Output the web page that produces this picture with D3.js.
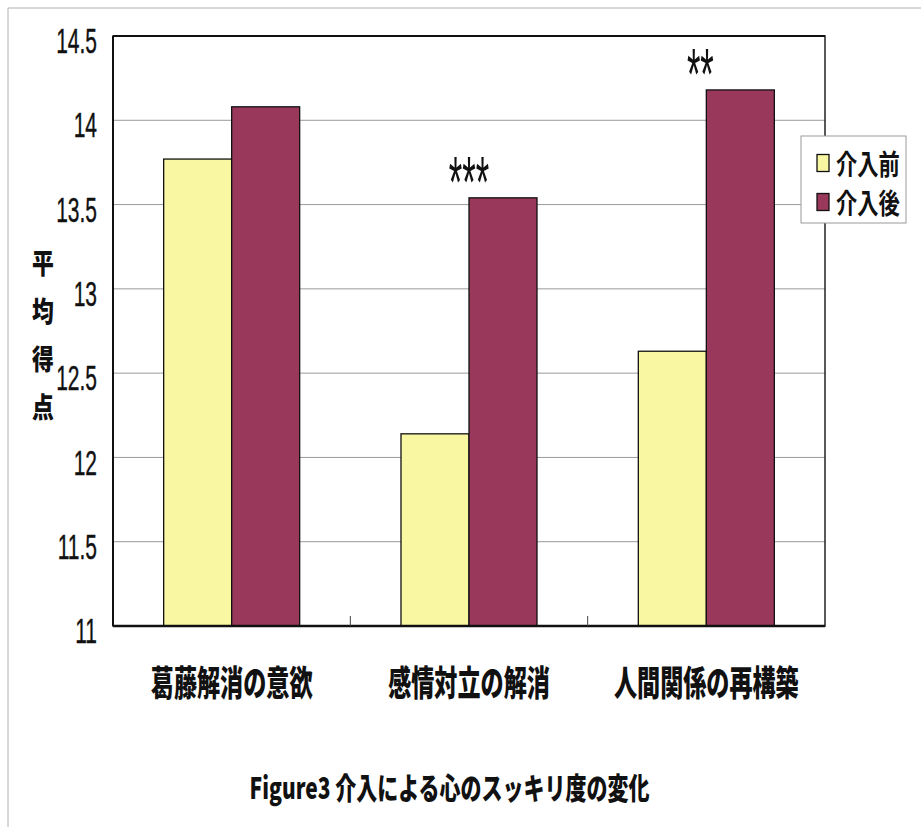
<!DOCTYPE html>
<html>
<head>
<meta charset="utf-8">
<script src="https://cdn.jsdelivr.net/npm/d3@7"></script>
<style>
  html, body { margin: 0; padding: 0; background: #fff; }
  svg { display: block; }
</style>
</head>
<body>
<script>
// ---- data ----
const categories = ["葛藤解消の意欲", "感情対立の解消", "人間関係の再構築"];
const seriesNames = ["介入前", "介入後"];
const beforeValues = [13.77, 12.14, 12.63];
const afterValues = [14.08, 13.54, 14.18];
const yTicks = [11, 11.5, 12, 12.5, 13, 13.5, 14, 14.5];
const significance = [
  { category: "感情対立の解消", label: "***" },
  { category: "人間関係の再構築", label: "**" }
];
const yTitle = "平均得点";
const chartTitle = "Figure3 介入による心のスッキリ度の変化";

// ---- layout / style ----
const W = 921, H = 827;
const plot = { left: 113, right: 825, top: 36, bottom: 626 };
const colors = ["#FAF7A3", "#99385B"];
const numFont = "'Liberation Sans', Arial, sans-serif";
const cjkFont = "'Noto Sans CJK JP', 'Noto Sans CJK SC', sans-serif";

const svg = d3.select("body").append("svg").attr("width", W).attr("height", H);

// outer frame (top & left only visible)
svg.append("line").attr("x1", 8).attr("y1", 8).attr("x2", W).attr("y2", 8)
  .attr("stroke", "#b0b0b0").attr("stroke-width", 1);
svg.append("line").attr("x1", 8).attr("y1", 8).attr("x2", 8).attr("y2", H)
  .attr("stroke", "#b0b0b0").attr("stroke-width", 1);

const y = d3.scaleLinear().domain([11, 14.5]).range([plot.bottom, plot.top]);
const x0 = d3.scaleBand().domain(categories).range([plot.left, plot.right]).padding(0);
const x1 = d3.scaleBand().domain(seriesNames).range([0, x0.bandwidth()])
  .paddingInner(0).paddingOuter(0.745);

// gridlines
svg.append("g").selectAll("line").data(yTicks.filter(t => t > 11 && t < 14.5)).join("line")
  .attr("x1", plot.left).attr("x2", plot.right)
  .attr("y1", d => y(d)).attr("y2", d => y(d))
  .attr("stroke", "#9a9a9a").attr("stroke-width", 1);

// bars
const rows = categories.map((c, i) => ({ category: c, values: [beforeValues[i], afterValues[i]] }));
const groups = svg.append("g").selectAll("g").data(rows).join("g")
  .attr("transform", d => `translate(${x0(d.category)},0)`);
groups.selectAll("rect").data(d => d.values.map((v, j) => ({ name: seriesNames[j], value: v, j })))
  .join("rect")
  .attr("x", d => x1(d.name))
  .attr("width", x1.bandwidth())
  .attr("y", d => y(d.value))
  .attr("height", d => y(11) - y(d.value))
  .attr("fill", d => colors[d.j])
  .attr("stroke", "#111").attr("stroke-width", 1.3);

// plot border
svg.append("rect").attr("x", plot.left).attr("y", plot.top)
  .attr("width", plot.right - plot.left).attr("height", plot.bottom - plot.top)
  .attr("fill", "none").attr("stroke", "#222").attr("stroke-width", 1.5);
svg.append("line").attr("x1", plot.left).attr("x2", plot.right)
  .attr("y1", plot.bottom).attr("y2", plot.bottom)
  .attr("stroke", "#111").attr("stroke-width", 2.5);
svg.append("line").attr("x1", plot.left).attr("x2", plot.right)
  .attr("y1", plot.top).attr("y2", plot.top)
  .attr("stroke", "#111").attr("stroke-width", 2);
svg.append("line").attr("x1", plot.left).attr("x2", plot.left)
  .attr("y1", plot.top).attr("y2", plot.bottom)
  .attr("stroke", "#111").attr("stroke-width", 2);

// x-axis inside ticks at category boundaries
const boundaries = categories.slice(1).map(c => x0(c));
svg.append("g").selectAll("line").data(boundaries).join("line")
  .attr("x1", d => d).attr("x2", d => d)
  .attr("y1", plot.bottom).attr("y2", plot.bottom - 10)
  .attr("stroke", "#444").attr("stroke-width", 1);

// y tick labels (condensed)
svg.append("g").selectAll("text").data(yTicks).join("text")
  .attr("transform", d => `translate(97,${y(d) + 5}) scale(0.6,1)`)
  .attr("text-anchor", "end")
  .attr("dominant-baseline", "central")
  .attr("font-family", numFont)
  .attr("font-size", 35)
  .attr("stroke", "#111").attr("stroke-width", 0.4)
  .attr("fill", "#111")
  .text(d => d);

// category labels
svg.append("g").selectAll("text").data(categories).join("text")
  .attr("transform", d => `translate(${x0(d) + x0.bandwidth() / 2},681) scale(0.66,1)`)
  .attr("text-anchor", "middle")
  .attr("dominant-baseline", "central")
  .attr("font-family", cjkFont)
  .attr("font-weight", 900)
  .attr("font-size", 35)
  .attr("fill", "#111")
  .text(d => d);

// y axis title, vertical stacked characters
svg.append("g").selectAll("text").data(Array.from(yTitle)).join("text")
  .attr("transform", (d, i) => `translate(43,${262 + i * 48}) scale(0.78,1)`)
  .attr("text-anchor", "middle")
  .attr("dominant-baseline", "central")
  .attr("font-family", cjkFont)
  .attr("font-weight", 900)
  .attr("font-size", 28)
  .attr("fill", "#111")
  .text(d => d);

// significance marks
svg.append("g").selectAll("text").data(significance).join("text")
  .attr("transform", d => {
    const i = categories.indexOf(d.category);
    const top = Math.max(beforeValues[i], afterValues[i]);
    return `translate(${x0(d.category) + x0.bandwidth() / 2 - (d.label.length === 2 ? 6 : 0)},${y(top) + 9}) scale(0.48,1)`;
  })
  .attr("text-anchor", "middle")
  .attr("font-family", numFont)
  .attr("font-size", 72)
  .attr("fill", "#111")
  .text(d => d.label);

// legend
const legend = svg.append("g");
legend.append("rect").attr("x", 801).attr("y", 136).attr("width", 105).attr("height", 87)
  .attr("fill", "#fff").attr("stroke", "#9a9a9a").attr("stroke-width", 1);
const li = legend.selectAll("g").data(seriesNames).join("g")
  .attr("transform", (d, i) => `translate(0,${163 + i * 39})`);
li.append("rect").attr("x", 817).attr("y", -8.5).attr("width", 12).attr("height", 17)
  .attr("fill", (d, i) => colors[i]).attr("stroke", "#111").attr("stroke-width", 1.3);
li.append("text")
  .attr("transform", "translate(836,0) scale(0.76,1)")
  .attr("dominant-baseline", "central")
  .attr("font-family", cjkFont)
  .attr("font-weight", 700)
  .attr("font-size", 28)
  .attr("fill", "#111")
  .text(d => d);

// chart title
svg.append("text")
  .attr("transform", "translate(449.5,786) scale(0.7,1)")
  .attr("text-anchor", "middle")
  .attr("dominant-baseline", "central")
  .attr("font-family", cjkFont)
  .attr("font-weight", 900)
  .attr("font-size", 30)
  .attr("fill", "#111")
  .text(chartTitle);
</script>
</body>
</html>
